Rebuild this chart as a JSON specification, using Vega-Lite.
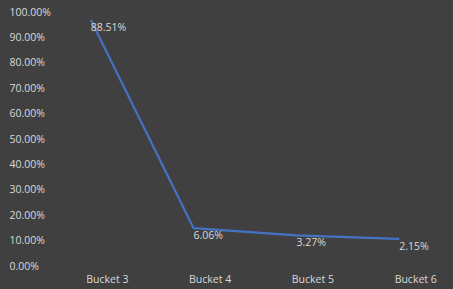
{
  "$schema": "https://vega.github.io/schema/vega-lite/v6.json",
  "width": 368,
  "height": 254,
  "autosize": {"type": "none"},
  "padding": {"left": 61, "top": 12, "right": 24, "bottom": 23},
  "background": "#404040",
  "config": {
    "view": {"stroke": null},
    "font": "Open Sans",
    "axis": {"labelColor": "#d9d9d9", "labelFont": "Open Sans", "labelFontSize": 10.5, "grid": false, "domain": false, "ticks": false}
  },
  "data": {
    "values": [
      {"bucket": "Bucket 3", "value": 0.969, "label": "88.51%"},
      {"bucket": "Bucket 4", "value": 0.149, "label": "6.06%"},
      {"bucket": "Bucket 5", "value": 0.121, "label": "3.27%"},
      {"bucket": "Bucket 6", "value": 0.107, "label": "2.15%"}
    ]
  },
  "encoding": {
    "x": {
      "field": "bucket", "type": "ordinal", "sort": null,
      "scale": {"type": "point", "padding": 0.29},
      "axis": {"title": null, "labelAngle": 0, "labelPadding": 8, "labelOffset": 16}
    },
    "y": {
      "field": "value", "type": "quantitative",
      "scale": {"domain": [0, 1], "nice": false},
      "axis": {"title": null, "format": ".2%", "values": [0, 0.1, 0.2, 0.3, 0.4, 0.5, 0.6, 0.7, 0.8, 0.9, 1.0], "labelAlign": "left", "labelPadding": 52}
    }
  },
  "layer": [
    {"mark": {"type": "line", "color": "#4472C4", "strokeWidth": 2.25}},
    {"mark": {"type": "text", "align": "left", "baseline": "middle", "dx": 0, "dy": 8, "color": "#d9d9d9", "fontSize": 10.5}, "encoding": {"text": {"field": "label"}}}
  ]
}
